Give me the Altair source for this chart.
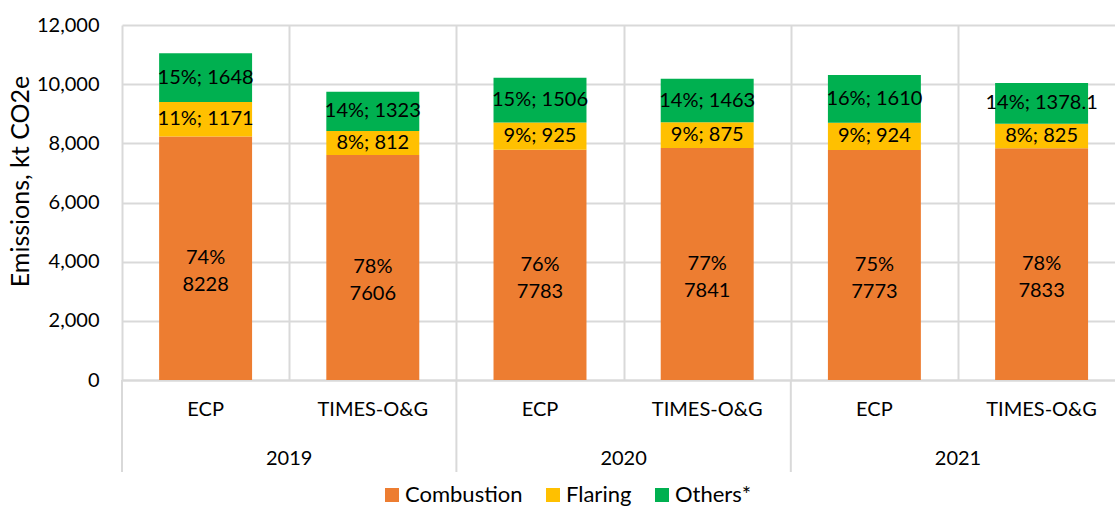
import altair as alt
import pandas as pd

years = ["2019", "2019", "2020", "2020", "2021", "2021"]
models = ["ECP", "TIMES-O&G", "ECP", "TIMES-O&G", "ECP", "TIMES-O&G"]
combustion = [8228, 7606, 7783, 7841, 7773, 7833]
comb_pct = ["74%", "78%", "76%", "77%", "75%", "78%"]
flaring = [1171, 812, 925, 875, 924, 825]
flar_pct = ["11%", "8%", "9%", "9%", "9%", "8%"]
others = [1648, 1323, 1506, 1463, 1610, 1378.1]
oth_pct = ["15%", "14%", "15%", "14%", "16%", "14%"]
components = ["Combustion", "Flaring", "Others*"]
colors = ["#ED7D31", "#FFC000", "#00B050"]

HALF = 0.278  # half bar width in category units
STEP = 167.2
W, H = 993, 355

rows = []
for i in range(len(years)):
    base = 0.0
    for comp, vals, pcts, order in [
        ("Combustion", combustion, comb_pct, 0),
        ("Flaring", flaring, flar_pct, 1),
        ("Others*", others, oth_pct, 2),
    ]:
        v = vals[i]
        v_txt = ("%g" % v)
        if comp == "Combustion":
            label = pcts[i] + "\n" + v_txt
        else:
            label = pcts[i] + "; " + v_txt
        rows.append(dict(idx=i, year=years[i], model=models[i], component=comp,
                         order=order, y0=base, y1=base + v, mid=base + v / 2,
                         x0=i + 0.5 - HALF, x1=i + 0.5 + HALF, xc=i + 0.5,
                         label=label))
        base += v
df = pd.DataFrame(rows)

cats = pd.DataFrame(dict(xc=[i + 0.5 for i in range(6)], model=models))
yrs = pd.DataFrame(dict(xc=[1.0, 3.0, 5.0], year=["2019", "2020", "2021"]))
seps = pd.DataFrame(dict(x=[0, 2, 4]))

xscale = alt.Scale(domain=[0, W / STEP], nice=False, zero=False)
yscale = alt.Scale(domain=[0, 12000], nice=False)

FONT = "Lato"

bars = alt.Chart(df).mark_bar().encode(
    x=alt.X("x0:Q", scale=xscale,
            axis=alt.Axis(values=[0, 1, 2, 3, 4, 5], labels=False, ticks=False,
                          grid=True, gridColor="#d9d9d9", gridWidth=2,
                          domainColor="#d9d9d9", domainWidth=2, title=None)),
    x2="x1:Q",
    y=alt.Y("y0:Q", scale=yscale,
            axis=alt.Axis(values=list(range(0, 12001, 2000)), format=",.0f",
                          grid=True, gridColor="#d9d9d9", gridWidth=2,
                          domain=False, ticks=False, labelPadding=23,
                          labelFontSize=20, labelFont=FONT, labelColor="#000000",
                          title="Emissions, kt CO2e", titleFontSize=25,
                          titleFont=FONT, titleFontWeight="normal",
                          titleColor="#000000", titleAngle=-90,
                          titleX=-89, titleY=156, titleAlign="center",
                          titleBaseline="bottom")),
    y2="y1:Q",
    color=alt.Color("component:N",
                    scale=alt.Scale(domain=components, range=colors),
                    legend=alt.Legend(title=None, orient="none", direction="horizontal",
                                      legendX=259, legendY=459, padding=0,
                                      symbolType="square", symbolSize=196,
                                      symbolStrokeWidth=0,
                                      labelFontSize=22, labelFont=FONT,
                                      labelColor="#000000", columnPadding=19,
                                      labelOffset=2)),
    order="order:Q",
)

labels = alt.Chart(df).mark_text(fontSize=20, font=FONT, color="#000000",
                                 lineBreak="\n", lineHeight=27, baseline="middle").encode(
    x=alt.X("xc:Q", scale=xscale),
    y=alt.Y("mid:Q", scale=yscale),
    text="label:N",
)

cat_text = alt.Chart(cats).mark_text(fontSize=20, font=FONT, color="#000000",
                                     baseline="middle").encode(
    x=alt.X("xc:Q", scale=xscale),
    y=alt.value(H + 30),
    text="model:N",
)

year_text = alt.Chart(yrs).mark_text(fontSize=20, font=FONT, color="#000000",
                                     baseline="middle").encode(
    x=alt.X("xc:Q", scale=xscale),
    y=alt.value(H + 79),
    text="year:N",
)

sep_rules = alt.Chart(seps).mark_rule(color="#d9d9d9", strokeWidth=2).encode(
    x=alt.X("x:Q", scale=xscale),
    y=alt.value(H),
    y2=alt.value(H + 92),
)

chart = alt.layer(bars, labels, cat_text, year_text, sep_rules).properties(
    width=W, height=H,
    autosize=alt.AutoSizeParams(type="none"),
    padding={"left": 122, "top": 25, "right": 0, "bottom": 126},
    background="white",
).configure_view(stroke=None)

chart.save("out.html", embed_options={"renderer": "svg", "actions": False})
